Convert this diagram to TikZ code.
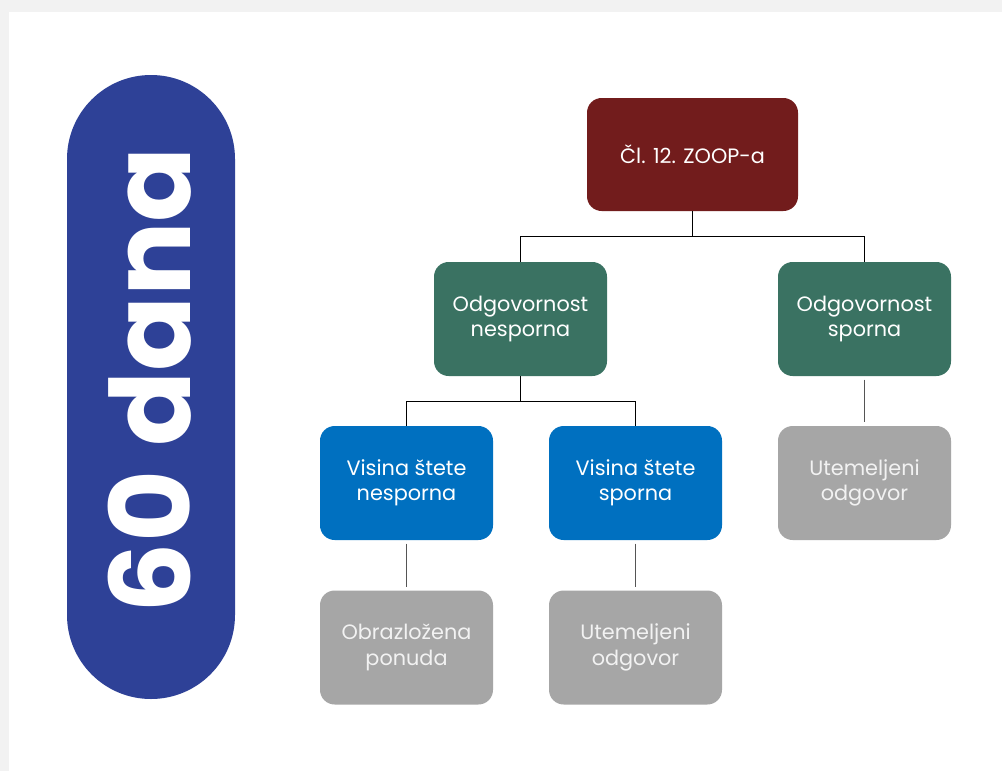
\documentclass[tikz,border=0pt]{standalone}
\usepackage{fontspec}
\setmainfont{Poppins}
\usepackage{tikz}

\definecolor{bggrey}{HTML}{F2F2F2}
\definecolor{pillblue}{HTML}{2E4197}
\definecolor{lawred}{HTML}{721C1C}
\definecolor{respgreen}{HTML}{3A7262}
\definecolor{dmgblue}{HTML}{0070C0}
\definecolor{answgrey}{HTML}{A6A6A6}
\definecolor{linegrey}{HTML}{555555}

\begin{document}
\begin{tikzpicture}[x=0.75pt, y=-0.75pt,
    box/.style={rounded corners=11pt, align=center, text=white, inner sep=0pt,
        minimum width=129.75pt, minimum height=85.5pt,
        font=\fontsize{15.6}{19}\selectfont},
    link/.style={draw=black, line width=0.8pt},
    sublink/.style={draw=linegrey, line width=1.3pt, shorten <=2.5pt, shorten >=2.5pt}]
        \useasboundingbox (0,0) rectangle (1002,771);
        \fill[bggrey] (0,0) rectangle (1002,771);
        \fill[white] (9,12) rectangle (1002,771);

        \node[fill=pillblue, rounded corners=63pt, minimum width=126pt, minimum height=468pt, inner sep=0pt] (pill) at (151,387) {};
        \node[rotate=90, text=white, font=\bfseries\fontsize{83}{83}\selectfont] (days) at (150,380) {60 dana};

        \node[box, fill=lawred, minimum width=158.25pt, minimum height=84.75pt] (clanak) at (692.5,154.5) {Čl. 12. ZOOP-a};
        \node[box, fill=respgreen] (odgN) at (520.5,319) {Odgovornost\\nesporna};
        \node[box, fill=respgreen] (odgS) at (864.5,319) {Odgovornost\\sporna};
        \node[box, fill=dmgblue] (visN) at (406.5,483) {Visina štete\\nesporna};
        \node[box, fill=dmgblue] (visS) at (635.5,483) {Visina štete\\sporna};
        \node[box, fill=answgrey, text=bggrey] (utemR) at (864.5,483) {Utemeljeni\\odgovor};
        \node[box, fill=answgrey, text=bggrey] (obraz) at (406.5,647.5) {Obrazložena\\ponuda};
        \node[box, fill=answgrey, text=bggrey] (utemL) at (635.5,647.5) {Utemeljeni\\odgovor};

        \draw[link] (clanak.south) -- ++(0,25) -| (odgN.north);
        \draw[link] (clanak.south) -- ++(0,25) -| (odgS.north);
        \draw[link] (odgN.south) -- ++(0,25) -| (visN.north);
        \draw[link] (odgN.south) -- ++(0,25) -| (visS.north);

        \draw[sublink] (visN) edge (obraz)
                       (visS) edge (utemL)
                       (odgS) edge (utemR);
\end{tikzpicture}
\end{document}
